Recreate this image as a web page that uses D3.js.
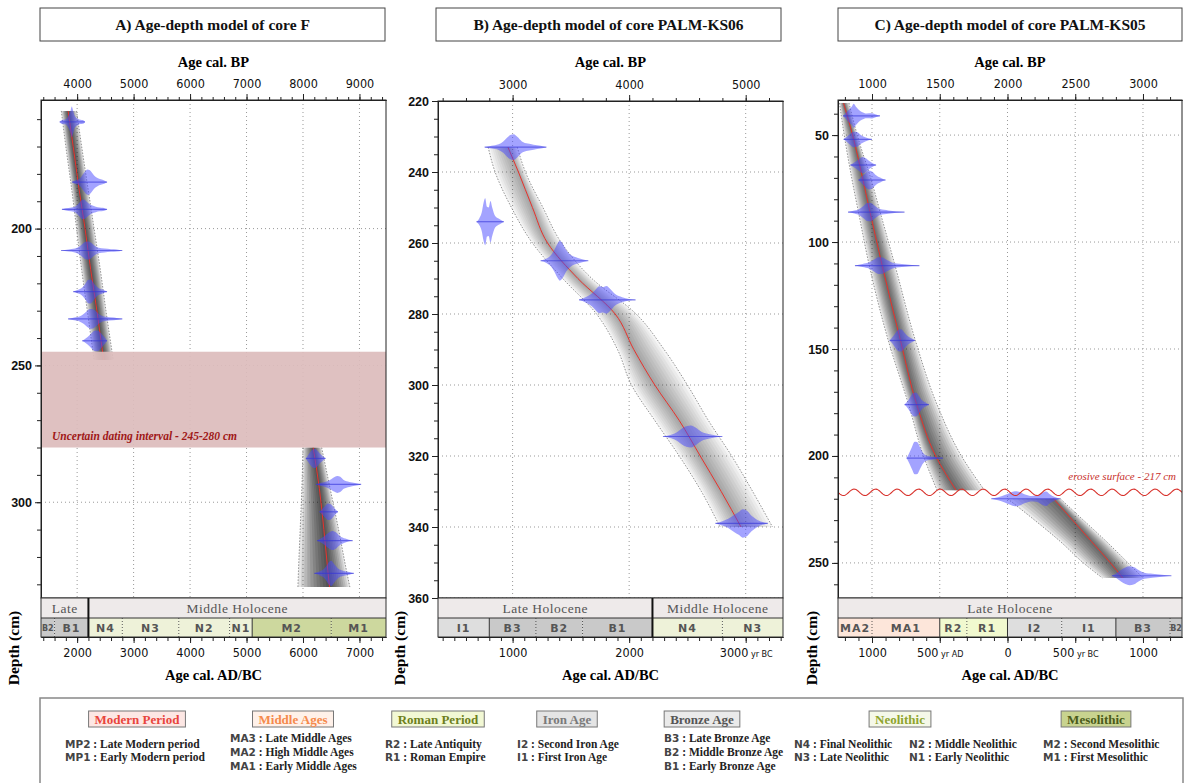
<!DOCTYPE html>
<html>
<head>
<meta charset="utf-8">
<title>Age-depth models</title>
<script src="https://cdn.jsdelivr.net/npm/d3@7/dist/d3.min.js"></script>
<style>
  body { margin: 0; background: #fff; }
  .serif { font-family: "Liberation Serif", "Times New Roman", serif; }
  .tick text { font-family: "Liberation Sans Narrow", "DejaVu Sans Condensed", "Arial Narrow", sans-serif; font-size: 12.5px; fill: #111; }
  .yaxis .tick text { font-family: "Liberation Sans", Arial, sans-serif; font-weight: bold; font-size: 12.5px; }
  .domain, .tick line { stroke: #222; }
</style>
</head>
<body>
<svg id="chart" width="1184" height="783"></svg>
<script>
// ---------------- data ----------------
var panelTitles = ["A) Age-depth model of core F", "B) Age-depth model of core PALM-KS06", "C) Age-depth model of core PALM-KS05"];

// extents of each plot: age cal. BP and depth (cm)
var bpExtent = [[3360, 9470], [2360, 5320], [749, 3288]];
var depthExtent = [[153, 335], [220, 360], [33.6, 266.4]];

// labelled ticks
var bpTicks = [[4000, 5000, 6000, 7000, 8000, 9000], [3000, 4000, 5000], [1000, 1500, 2000, 2500, 3000]];
var depthTicks = [[200, 250, 300], [220, 240, 260, 280, 300, 320, 340, 360], [50, 100, 150, 200, 250]];
var bcTicks = [[2000, 3000, 4000, 5000, 6000, 7000], [1000, 2000, 3000], [-1000, -500, 0, 500, 1000]]; // BC positive, AD negative
var bcTickSuffix = [{}, {"3000": "yr BC"}, {"-500": "yr AD", "500": "yr BC"}];
var minorSteps = [[200, 10, 200], [200, 5, 100], [100, 10, 100]]; // BP, depth, AD/BC

// model rows: [depth, min age, mean age, max age] (cal BP)
var coreF_top = [[157, 3720, 3840, 3990], [170, 3800, 3930, 4080], [185, 3900, 4030, 4190], [200, 3990, 4140, 4300],
                 [215, 4080, 4240, 4410], [230, 4180, 4350, 4510], [248, 4300, 4470, 4640]];
var coreF_bottom = [[280, 8000, 8180, 8330], [295, 7980, 8290, 8480], [310, 7950, 8370, 8630], [325, 7920, 8440, 8770], [331, 7910, 8470, 8830]];
var ks06_model = [[233, 2790, 2960, 3040], [240, 2850, 3050, 3110], [250, 2990, 3170, 3260], [260, 3170, 3300, 3420],
                  [270, 3430, 3560, 3680], [280, 3720, 3880, 4060], [290, 3900, 4040, 4300], [300, 4020, 4220, 4500],
                  [310, 4220, 4430, 4680], [320, 4430, 4610, 4880], [330, 4620, 4790, 5060], [340, 4780, 4960, 5230]];
var ks05_top = [[35, 760, 790, 830], [52, 800, 865, 900], [70, 850, 930, 990], [86, 900, 985, 1060], [111, 980, 1075, 1170],
                [146, 1120, 1210, 1320], [176, 1270, 1330, 1480], [200, 1380, 1470, 1660], [216, 1480, 1620, 1830]];
var ks05_bottom = [[220, 2000, 2340, 2390], [230, 2200, 2480, 2560], [240, 2390, 2620, 2730], [250, 2560, 2760, 2890], [257, 2700, 2850, 3000]];

// calibrated dates: [depth, [[age BP, half height cm], ...]]
var coreF_dates = [
  [161, [[3690,0],[3740,0.8],[3790,0.9],[3830,1.6],[3860,2.8],[3885,4.2],[3905,5.6],[3925,4.4],[3950,2.6],[3980,1.6],[4020,1.1],[4060,0.8],[4100,0.7],[4140,0]]],
  [183, [[3910,0],[3960,0.6],[4010,0.9],[4060,1.6],[4100,2.8],[4140,3.9],[4180,4.6],[4220,4.4],[4260,3.5],[4300,2.4],[4360,1.5],[4420,1.0],[4480,0.6],[4530,0]]],
  [193, [[3730,0],[3800,0.4],[3900,0.7],[3980,1.3],[4030,2.3],[4070,3.2],[4110,3.6],[4150,3.2],[4200,2.3],[4260,1.5],[4330,1.0],[4400,0.7],[4460,0.6],[4530,0]]],
  [208, [[3715,0],[3850,0.4],[3960,0.7],[4040,1.5],[4100,2.5],[4150,3.2],[4200,3.3],[4250,2.8],[4310,1.7],[4380,1.0],[4480,0.7],[4600,0.5],[4700,0.4],[4800,0]]],
  [223, [[3930,0],[3990,0.5],[4050,0.9],[4100,1.7],[4150,3.0],[4190,4.2],[4230,4.4],[4270,3.8],[4310,2.6],[4370,1.4],[4450,0.7],[4530,0]]],
  [233, [[3840,0],[3950,0.5],[4050,1.0],[4120,1.9],[4180,3.0],[4230,3.6],[4280,3.5],[4330,2.8],[4400,1.5],[4500,0.8],[4650,0.5],[4800,0]]],
  [241, [[4090,0],[4150,0.8],[4210,1.8],[4260,2.9],[4310,3.7],[4360,3.8],[4410,3.0],[4460,1.8],[4500,0.9],[4530,0]]],
  [284, [[8050,0],[8090,1.2],[8130,2.4],[8170,3.3],[8210,3.5],[8250,2.9],[8300,1.7],[8350,0.8],[8400,0]]],
  [293.5, [[8230,0],[8320,0.6],[8420,1.1],[8500,1.9],[8560,2.7],[8610,3.1],[8660,2.8],[8720,1.6],[8820,0.9],[8920,0.5],[9030,0]]],
  [303.5, [[8290,0],[8340,1.0],[8390,2.1],[8440,3.0],[8490,2.8],[8550,1.5],[8620,0]]],
  [314, [[8250,0],[8330,0.9],[8400,1.9],[8460,2.9],[8520,3.5],[8580,3.0],[8650,1.7],[8750,0.7],[8880,0]]],
  [326, [[8200,0],[8290,0.7],[8370,1.6],[8420,2.9],[8460,4.2],[8500,4.6],[8550,3.4],[8620,1.8],[8720,0.9],[8820,0.5],[8900,0]]]
];
var ks06_dates = [
  [233, [[2760,0],[2820,0.4],[2880,0.8],[2920,1.6],[2950,2.6],[2980,3.4],[3010,3.6],[3040,2.9],[3080,1.6],[3130,1.0],[3180,0.7],[3240,0.4],[3290,0]]],
  [254, [[2690,0],[2715,1.0],[2735,2.6],[2752,5.5],[2765,6.6],[2780,4.2],[2795,4.0],[2810,5.8],[2825,4.0],[2850,1.6],[2890,0.7],[2925,0]]],
  [265, [[3240,0],[3290,0.6],[3330,1.6],[3360,3.2],[3385,4.8],[3405,5.6],[3430,4.8],[3460,3.0],[3500,1.6],[3560,0.8],[3650,0]]],
  [276, [[3570,0],[3630,0.8],[3680,1.8],[3715,3.0],[3745,3.8],[3775,3.6],[3805,3.9],[3840,3.0],[3880,1.6],[3940,0.7],[4055,0]]],
  [314.5, [[4290,0],[4360,0.5],[4410,1.2],[4450,2.2],[4490,2.9],[4530,3.1],[4570,2.5],[4620,1.3],[4690,0.6],[4800,0]]],
  [339, [[4740,0],[4800,0.6],[4850,1.3],[4900,2.4],[4940,3.2],[4975,4.0],[5010,3.6],[5050,2.2],[5100,1.0],[5190,0]]]
];
var ks05_dates = [
  [41, [[786,0],[810,1.6],[830,3.0],[850,4.2],[865,5.6],[880,4.4],[900,3.0],[925,1.8],[960,1.1],[1000,1.2],[1030,0.6],[1059,0]]],
  [52, [[790,0],[815,1.2],[840,2.6],[865,3.6],[890,3.4],[915,2.2],[950,1.0],[1000,0]]],
  [64, [[840,0],[875,1.4],[905,2.8],[930,3.8],[955,3.2],[985,1.6],[1030,0]]],
  [71, [[900,0],[925,1.6],[950,3.2],[975,4.4],[1000,4.0],[1030,2.2],[1070,0.8],[1100,0]]],
  [86, [[823,0],[870,0.7],[910,1.6],[940,3.0],[965,4.2],[990,4.3],[1020,3.0],[1060,1.4],[1120,0.8],[1240,0]]],
  [111, [[874,0],[930,0.7],[980,1.5],[1015,2.8],[1045,3.9],[1075,3.8],[1110,2.6],[1160,1.2],[1240,0.6],[1350,0]]],
  [146, [[1130,0],[1155,1.8],[1175,3.6],[1195,5.0],[1215,5.2],[1235,4.0],[1260,2.2],[1290,1.0],[1317,0]]],
  [176, [[1240,0],[1265,1.8],[1285,3.8],[1305,5.4],[1325,5.6],[1345,4.2],[1370,2.0],[1400,0.8],[1420,0]]],
  [201, [[1255,0],[1275,2.4],[1295,5.2],[1315,7.6],[1335,7.4],[1355,5.0],[1375,2.6],[1400,1.2],[1450,0.6],[1524,0]]],
  [220, [[1880,0],[1930,0.7],[1980,1.7],[2020,2.8],[2055,3.5],[2090,3.2],[2130,2.0],[2180,1.3],[2220,1.5],[2255,2.8],[2285,3.4],[2315,2.0],[2350,0.8],[2390,0]]],
  [256, [[2770,0],[2805,1.2],[2840,2.8],[2870,3.9],[2900,4.4],[2935,4.0],[2970,2.6],[3010,1.4],[3070,0.9],[3140,0.5],[3210,0]]]
];

var coreF_gap = [245, 280];   // uncertain dating interval (cm)
var ks05_erosion = 217;       // erosive surface (cm)

// chronology bands, years BC (AD negative)
var epochsA = [["Late", 1000, 2200], ["Middle Holocene", 2200, 8000]];
var periodsA = [["B2", 1000, 1600], ["B1", 1600, 2200], ["N4", 2200, 2800], ["N3", 2800, 3800], ["N2", 3800, 4700], ["N1", 4700, 5100], ["M2", 5100, 6500], ["M1", 6500, 8000]];
var epochsB = [["Late Holocene", 0, 2200], ["Middle Holocene", 2200, 4000]];
var periodsB = [["I1", 0, 800], ["B3", 800, 1200], ["B2", 1200, 1600], ["B1", 1600, 2200], ["N4", 2200, 2800], ["N3", 2800, 4000]];
var epochsC = [["Late Holocene", -1500, 1500]];
var periodsC = [["MA2", -1500, -1000], ["MA1", -1000, -500], ["R2", -500, -300], ["R1", -300, 0], ["I2", 0, 400], ["I1", 400, 800], ["B3", 800, 1200], ["B2", 1200, 1600]];

var legendGroups = [
  ["Modern Period", [["MP2", "Late Modern period"], ["MP1", "Early Modern period"]]],
  ["Middle Ages", [["MA3", "Late Middle Ages"], ["MA2", "High Middle Ages"], ["MA1", "Early Middle Ages"]]],
  ["Roman Period", [["R2", "Late Antiquity"], ["R1", "Roman Empire"]]],
  ["Iron Age", [["I2", "Second Iron Age"], ["I1", "First Iron Age"]]],
  ["Bronze Age", [["B3", "Late Bronze Age"], ["B2", "Middle Bronze Age"], ["B1", "Early Bronze Age"]]],
  ["Neolithic", [["N4", "Final Neolithic"], ["N3", "Late Neolithic"], ["N2", "Middle Neolithic"], ["N1", "Early Neolithic"]]],
  ["Mesolithic", [["M2", "Second Mesolithic"], ["M1", "First Mesolithic"]]]
];

// ---------------- layout / style ----------------
var models = [[coreF_top, coreF_bottom], [ks06_model], [ks05_top, ks05_bottom]];
var dates = [coreF_dates, ks06_dates, ks05_dates];
var epochs = [epochsA, epochsB, epochsC];
var periods = [periodsA, periodsB, periodsC];

var layout = [
  {x0: 41, x1: 386, y0: 100, y1: 598, tx0: 40, tx1: 385, depthX: 19, shade: 0.1},
  {x0: 438, x1: 783, y0: 101, y1: 598, tx0: 436, tx1: 781, depthX: 405, shade: 0.04},
  {x0: 838, x1: 1182, y0: 100, y1: 598, tx0: 838, tx1: 1182, depthX: 817, shade: 0.08}
];
var shadeLevels = d3.range(1, 0.05, -0.1); // nested envelope fractions (gradient look)
var bandFill = {MP: "#fde6e3", MA: "#fde6da", R: "#f1f9cf", I: "#dedede", B: "#c9c9c9", N: "#eef2d9", M: "#cdd89e"};
var legendStyle = [
  {cx: 137, cols: [65], color: "#e8453c", fill: "#fde7e4"},
  {cx: 293, cols: [230], color: "#f58a4c", fill: "#fff1e9"},
  {cx: 438, cols: [385], color: "#6d7f1c", fill: "#f2f8d4"},
  {cx: 567, cols: [517], color: "#7a7a7a", fill: "#e4e4e4"},
  {cx: 702, cols: [664], color: "#555555", fill: "#eaeaea"},
  {cx: 900, cols: [794, 909], color: "#8ea42e", fill: "#f5f8e8"},
  {cx: 1096, cols: [1043], color: "#4b5b1a", fill: "#c8d38f"}
];
var BP_OFFSET = 2000; // the figure's AD/BC scale sits 2000 yr below the BP scale

var svg = d3.select("#chart");
var defs = svg.append("defs");

function stepValues(ext, step) {
  return d3.range(Math.ceil(ext[0] / step) * step, ext[1] + 1e-6, step);
}

function drawPanel(i) {
  var L = layout[i];
  var g = svg.append("g");
  var x = d3.scaleLinear().domain(bpExtent[i]).range([L.x0, L.x1]);
  var y = d3.scaleLinear().domain(depthExtent[i]).range([L.y0, L.y1]);
  var bcExt = [bpExtent[i][0] - BP_OFFSET, bpExtent[i][1] - BP_OFFSET];
  var xbc = d3.scaleLinear().domain(bcExt).range([L.x0, L.x1]);
  var cx = (L.x0 + L.x1) / 2;

  // title box
  g.append("rect").attr("x", L.tx0).attr("y", 8).attr("width", L.tx1 - L.tx0).attr("height", 33)
    .attr("fill", "#fff").attr("stroke", "#444");
  g.append("text").attr("class", "serif").attr("x", (L.tx0 + L.tx1) / 2).attr("y", 30)
    .attr("text-anchor", "middle").attr("font-weight", "bold").attr("font-size", 15.5).attr("fill", "#111")
    .text(panelTitles[i]);
  g.append("text").attr("class", "serif").attr("x", cx).attr("y", 67)
    .attr("text-anchor", "middle").attr("font-weight", "bold").attr("font-size", 14.5).text("Age cal. BP");

  defs.append("clipPath").attr("id", "clip" + i).append("rect")
    .attr("x", L.x0).attr("y", L.y0).attr("width", L.x1 - L.x0).attr("height", L.y1 - L.y0);
  var plot = g.append("g").attr("clip-path", "url(#clip" + i + ")");

  // grid
  plot.selectAll(".vgrid").data(bpTicks[i]).join("line")
    .attr("x1", d => x(d)).attr("x2", d => x(d)).attr("y1", L.y0).attr("y2", L.y1)
    .attr("stroke", "#999").attr("stroke-dasharray", "1,3");
  plot.selectAll(".hgrid").data(depthTicks[i]).join("line")
    .attr("y1", d => y(d)).attr("y2", d => y(d)).attr("x1", L.x0).attr("x2", L.x1)
    .attr("stroke", "#999").attr("stroke-dasharray", "1,3");

  // age-depth envelopes
  models[i].forEach(function(rows) {
    shadeLevels.forEach(function(k) {
      var area = d3.area().curve(d3.curveMonotoneY)
        .y(r => y(r[0]))
        .x0(r => x(r[2] - k * (r[2] - r[1])))
        .x1(r => x(r[2] + k * (r[3] - r[2])));
      plot.append("path").datum(rows).attr("d", area).attr("fill", "#000").attr("fill-opacity", L.shade);
    });
    [1, 3].forEach(function(c) {
      plot.append("path").datum(rows)
        .attr("d", d3.line().curve(d3.curveMonotoneY).y(r => y(r[0])).x(r => x(r[c])))
        .attr("fill", "none").attr("stroke", "#777").attr("stroke-width", 0.8).attr("stroke-dasharray", "1.5,1.5");
    });
    plot.append("path").datum(rows)
      .attr("d", d3.line().curve(d3.curveMonotoneY).y(r => y(r[0])).x(r => x(r[2])))
      .attr("fill", "none").attr("stroke", "#e8322c").attr("stroke-width", 1);
  });

  // calibrated dates
  dates[i].forEach(function(dt) {
    var dep = dt[0];
    var blob = d3.area().curve(d3.curveMonotoneX).x(p => x(p[0])).y0(p => y(dep - p[1])).y1(p => y(dep + p[1]));
    plot.append("path").datum(dt[1]).attr("d", blob).attr("fill", "#4848ff").attr("fill-opacity", 0.5);
    var ages = dt[1];
    plot.append("line").attr("x1", x(ages[0][0])).attr("x2", x(ages[ages.length - 1][0]))
      .attr("y1", y(dep)).attr("y2", y(dep)).attr("stroke", "#3434d8").attr("stroke-opacity", 0.6).attr("stroke-width", 1.2);
  });

  if (i === 0) {
    plot.append("rect").attr("x", L.x0).attr("width", L.x1 - L.x0)
      .attr("y", y(coreF_gap[0])).attr("height", y(coreF_gap[1]) - y(coreF_gap[0]))
      .attr("fill", "#dcbcbc").attr("fill-opacity", 0.92);
    g.append("text").attr("class", "serif").attr("x", L.x0 + 11).attr("y", y(coreF_gap[1]) - 8)
      .attr("font-style", "italic").attr("font-weight", "bold").attr("font-size", 11.5).attr("fill", "#a01818")
      .text("Uncertain dating interval - " + coreF_gap[0] + "-" + coreF_gap[1] + " cm");
  }
  if (i === 2) {
    var ye = y(ks05_erosion);
    var wave = d3.range(L.x0, L.x1 + 1, 1).map(v => [v, ye + 3.2 * Math.sin((v - L.x0) / 21.5 * 2 * Math.PI)]);
    plot.append("path").datum(wave).attr("d", d3.line()).attr("fill", "none").attr("stroke", "#d8322c").attr("stroke-width", 1.1);
    g.append("text").attr("class", "serif").attr("x", L.x1 - 6).attr("y", ye - 12).attr("text-anchor", "end")
      .attr("font-style", "italic").attr("font-size", 11).attr("fill", "#c8302b")
      .text("erosive surface - " + ks05_erosion + " cm");
  }

  // frame
  g.append("rect").attr("x", L.x0).attr("y", L.y0).attr("width", L.x1 - L.x0).attr("height", L.y1 - L.y0)
    .attr("fill", "none").attr("stroke", "#222");

  // top axis
  g.append("g").attr("transform", "translate(0," + L.y0 + ")")
    .call(d3.axisTop(x).tickValues(stepValues(bpExtent[i], minorSteps[i][0])).tickSize(3).tickFormat("").tickSizeOuter(0));
  g.append("g").attr("transform", "translate(0," + L.y0 + ")")
    .call(d3.axisTop(x).tickValues(bpTicks[i]).tickSize(6).tickPadding(6).tickSizeOuter(0).tickFormat(d3.format("d")));

  // left axis
  g.append("g").attr("transform", "translate(" + L.x0 + ",0)")
    .call(d3.axisLeft(y).tickValues(stepValues(depthExtent[i], minorSteps[i][1])).tickSize(4).tickFormat("").tickSizeOuter(0));
  g.append("g").attr("class", "yaxis").attr("transform", "translate(" + L.x0 + ",0)")
    .call(d3.axisLeft(y).tickValues(depthTicks[i]).tickSize(6).tickPadding(3).tickSizeOuter(0));

  // chronology bands
  var top = L.y1, h1 = 20, h2 = 19;
  var clampX = v => xbc(Math.max(bcExt[0], Math.min(bcExt[1], v)));
  var bands = g.append("g");
  epochs[i].forEach(function(e) {
    var a = clampX(e[1]), b = clampX(e[2]);
    bands.append("rect").attr("x", a).attr("y", top).attr("width", b - a).attr("height", h1).attr("fill", "#eeeaea");
    bands.append("text").attr("class", "serif").attr("x", (a + b) / 2).attr("y", top + 14.5)
      .attr("text-anchor", "middle").attr("font-size", 13.5).attr("letter-spacing", 0.5).attr("fill", "#555").text(e[0]);
  });
  periods[i].forEach(function(p) {
    var a = clampX(p[1]), b = clampX(p[2]);
    if (b - a <= 0) return;
    var grp = p[0].replace(/\d/g, "");
    bands.append("rect").attr("x", a).attr("y", top + h1).attr("width", b - a).attr("height", h2).attr("fill", bandFill[grp]);
    var narrow = (b - a) < 22;
    bands.append("text").attr("x", (a + b) / 2).attr("y", top + h1 + (narrow ? 13 : 14))
      .attr("text-anchor", "middle").attr("font-family", "'DejaVu Sans', sans-serif").attr("font-weight", "bold")
      .attr("font-size", narrow ? 8 : 11).attr("letter-spacing", narrow ? 0 : 1).attr("fill", "#555").text(p[0]);
  });
  periods[i].forEach(function(p, k) {
    if (k === 0 || p[1] <= bcExt[0] || p[1] >= bcExt[1]) return;
    var same = periods[i][k - 1][0].replace(/\d/g, "") === p[0].replace(/\d/g, "");
    bands.append("line").attr("x1", xbc(p[1])).attr("x2", xbc(p[1])).attr("y1", top + h1).attr("y2", top + h1 + h2)
      .attr("stroke", "#333").attr("stroke-width", same ? 0.8 : 1).attr("stroke-dasharray", same ? "1,2" : null);
  });
  bands.append("rect").attr("x", L.x0).attr("y", top).attr("width", L.x1 - L.x0).attr("height", h1 + h2)
    .attr("fill", "none").attr("stroke", "#333");
  bands.append("line").attr("x1", L.x0).attr("x2", L.x1).attr("y1", top + h1).attr("y2", top + h1).attr("stroke", "#333");
  epochs[i].forEach(function(e, k) {
    if (k === 0 || e[1] <= bcExt[0] || e[1] >= bcExt[1]) return;
    bands.append("line").attr("x1", xbc(e[1])).attr("x2", xbc(e[1])).attr("y1", top).attr("y2", top + h1 + h2)
      .attr("stroke", "#111").attr("stroke-width", 2);
  });

  // bottom AD/BC axis
  var by = top + h1 + h2;
  g.append("g").attr("transform", "translate(0," + by + ")")
    .call(d3.axisBottom(xbc).tickValues(stepValues(bcExt, minorSteps[i][2])).tickSize(4).tickFormat("").tickSizeOuter(0));
  var bax = g.append("g").attr("transform", "translate(0," + by + ")")
    .call(d3.axisBottom(xbc).tickValues(bcTicks[i]).tickSize(6).tickPadding(5).tickSizeOuter(0).tickFormat(v => Math.abs(v)));
  bax.selectAll(".tick text").each(function(v) {
    var s = bcTickSuffix[i][String(v)];
    if (s) d3.select(this).append("tspan").attr("font-size", 9).text(" " + s);
  });
  g.append("text").attr("class", "serif").attr("x", cx).attr("y", by + 43)
    .attr("text-anchor", "middle").attr("font-weight", "bold").attr("font-size", 14.5).text("Age cal. AD/BC");
  g.append("text").attr("class", "serif").attr("transform", "translate(" + L.depthX + ",648) rotate(-90)")
    .attr("text-anchor", "middle").attr("font-weight", "bold").attr("font-size", 15.5).text("Depth (cm)");
}

[0, 1, 2].forEach(drawPanel);

// ---------------- legend ----------------
svg.append("rect").attr("x", 40).attr("y", 698).attr("width", 1143).attr("height", 95)
  .attr("fill", "none").attr("stroke", "#888").attr("stroke-width", 1.5);

legendGroups.forEach(function(grp, k) {
  var st = legendStyle[k];
  var lg = svg.append("g");
  var t = lg.append("text").attr("class", "serif").attr("x", st.cx).attr("y", 723.5).attr("text-anchor", "middle")
    .attr("font-weight", "bold").attr("font-size", 13).attr("fill", st.color).text(grp[0]);
  var w = t.node().getComputedTextLength() + 12;
  lg.insert("rect", "text").attr("x", st.cx - w / 2).attr("y", 711).attr("width", w).attr("height", 16)
    .attr("fill", st.fill).attr("stroke", "#777");
  var items = grp[1];
  var perCol = Math.ceil(items.length / st.cols.length);
  var base = perCol === 3 ? [742, 756, 770] : [748, 761];
  items.forEach(function(it, j) {
    var c = Math.floor(j / perCol), r = j % perCol;
    var tx = lg.append("text").attr("x", st.cols[c]).attr("y", base[r]);
    tx.append("tspan").attr("font-family", "'DejaVu Sans', sans-serif").attr("font-weight", "bold")
      .attr("font-size", 10.5).attr("fill", "#444").text(it[0]);
    tx.append("tspan").attr("class", "serif").attr("font-weight", "bold").attr("font-size", 11.5)
      .attr("fill", "#222").text(" : " + it[1]);
  });
});
</script>
</body>
</html>
